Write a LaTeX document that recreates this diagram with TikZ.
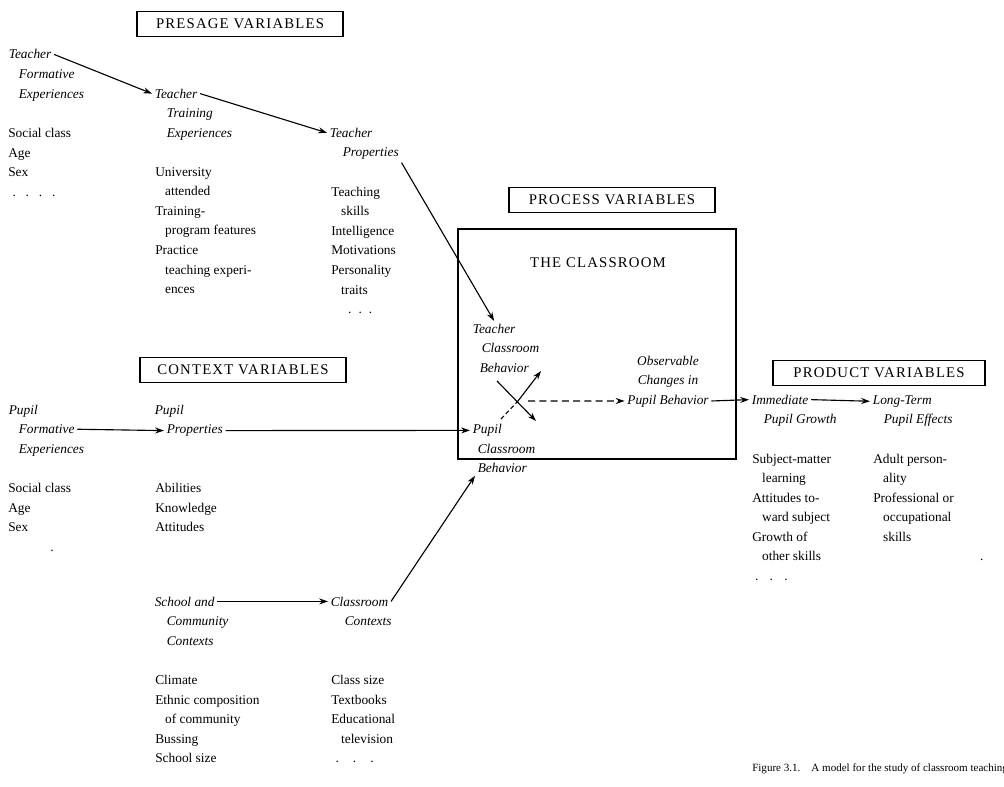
\documentclass[tikz,border=0pt]{standalone}
\usepackage{fontspec}
\setmainfont{Liberation Serif}
\newfontfamily\capsfont[LetterSpace=8]{Liberation Serif}
\usetikzlibrary{arrows.meta}
\newcommand\ind{\hspace*{7pt}}
\tikzset{
  flow/.style={-{Stealth[length=2.2mm,width=1.5mm]},line width=0.8pt},
  dashflow/.style={flow,dash pattern=on 5pt off 3pt},
  varbox/.style={draw,line width=0.9pt,minimum width=5.15cm,minimum height=0.62cm,
    inner sep=2pt,font=\capsfont\fontsize{10.5}{12}\selectfont},
  hd/.style={anchor=base west,inner sep=0pt,outer sep=2pt,
    font=\itshape\fontsize{9.5}{13.9}\selectfont},
  hdc/.style={hd,anchor=base},
  items/.style={anchor=north west,inner sep=0pt,align=left,
    font=\fontsize{9.5}{13.9}\selectfont}
}

\begin{document}
\begin{tikzpicture}[x=0.025cm,y=-0.025cm]
  \useasboundingbox (0,0) rectangle (1004,787);

  % presage
  \node[varbox] (presage) at (240,24) {PRESAGE VARIABLES};
  \node[hd] (tf1) at (6,59) {Teacher};
  \node[hd] (tf2) at (16,78.6) {Formative};
  \node[hd] (tf3) at (16,98.2) {Experiences};
  \node[items] (tfl) at (8,128) {Social class\\Age\\Sex\\\hspace*{3pt}.\hspace{7pt}.\hspace{7pt}.\hspace{7pt}.};
  \node[hd] (tt1) at (152,98.2) {Teacher};
  \node[hd] (tt2) at (164,117.8) {Training};
  \node[hd] (tt3) at (164,137.4) {Experiences};
  \node[items] (ttl) at (155,167.2) {University\\\ind attended\\Training-\\\ind program features\\Practice\\\ind teaching experi-\\\ind ences};
  \node[hd] (tp1) at (327,137.4) {Teacher};
  \node[hd] (tp2) at (340,157) {Properties};
  \node[items] (tpl) at (331,186.8) {Teaching\\\ind skills\\Intelligence\\Motivations\\Personality\\\ind traits\\\hspace*{12pt}.\hspace{5pt}.\hspace{5pt}.};
  \draw[flow] (tf1.east) -- (tt1.west);
  \draw[flow] (tt1.east) -- (tp1.west);

  % context
  \node[varbox] (context) at (243,370) {CONTEXT VARIABLES};
  \node[hd] (pf1) at (6,414) {Pupil};
  \node[hd] (pf2) at (16,433.6) {Formative};
  \node[hd] (pf3) at (16,453.2) {Experiences};
  \node[items] (pfl) at (8,483) {Social class\\Age\\Sex\\\hspace*{30pt}.};
  \node[hd] (pp1) at (152,414) {Pupil};
  \node[hd] (pp2) at (164,433.6) {Properties};
  \node[items] (ppl) at (155,483) {Abilities\\Knowledge\\Attitudes};
  \node[hd] (sc1) at (152,606) {School and};
  \node[hd] (sc2) at (164,625.6) {Community};
  \node[hd] (sc3) at (164,645.2) {Contexts};
  \node[items] (scl) at (155,675) {Climate\\Ethnic composition\\\ind of community\\Bussing\\School size};
  \node[hd] (cc1) at (328,606) {Classroom};
  \node[hd] (cc2) at (342,625.6) {Contexts};
  \node[items] (ccl) at (331,675) {Class size\\Textbooks\\Educational\\\ind television\\\hspace*{3pt}.\hspace{10pt}.\hspace{10pt}.};
  \draw[flow] (pf2.east) -- (pp2.west);
  \draw[flow] (sc1.east) -- (cc1.west);

  % process
  \node[varbox] (process) at (612,200) {PROCESS VARIABLES};
  \node[draw,line width=0.9pt,minimum width=6.95cm,minimum height=5.75cm] (room) at (597,344) {};
  \node[font=\capsfont\fontsize{10.5}{12}\selectfont] (roomtitle) at (598,263) {THE CLASSROOM};
  \node[hd] (tc1) at (470,333) {Teacher};
  \node[hd] (tc2) at (479,352.6) {Classroom};
  \node[hd] (tc3) at (477,372.2) {Behavior};
  \node[hd] (pc1) at (470,433.6) {Pupil};
  \node[hd] (pc2) at (475,453.2) {Classroom};
  \node[hd] (pc3) at (475,472.8) {Behavior};
  \node[hdc] (ob1) at (668,365) {Observable};
  \node[hdc] (ob2) at (668,384.6) {Changes in};
  \node[hdc] (ob3) at (668,404.2) {Pupil Behavior};
  \coordinate (xa) at (497,381);
  \coordinate (xb) at (536,421);
  \coordinate (xc) at (501,419);
  \coordinate (xm) at (518,401);
  \coordinate (xd) at (541,371);
  \coordinate (xo) at (528,401);
  \draw[flow] (xa) -- (xb);
  \draw[line width=0.8pt,dash pattern=on 3pt off 2pt] (xc) -- (xm);
  \draw[flow] (xm) -- (xd);
  \draw[dashflow] (xo) -- (ob3.west);
  \draw[flow] (tp2.south east) -- (tc1.north);
  \draw[flow] (pp2.east) -- (pc1.west);
  \draw[flow] (cc1.east) -- (pc3.south west);

  % product
  \node[varbox,minimum width=5.3cm] (product) at (879,373) {PRODUCT VARIABLES};
  \node[hd] (ip1) at (749,404.2) {Immediate};
  \node[hd] (ip2) at (761,423.8) {Pupil Growth};
  \node[hd] (lt1) at (870,404.2) {Long-Term};
  \node[hd] (lt2) at (881,423.8) {Pupil Effects};
  \node[items] (ipl) at (752,453.6) {Subject-matter\\\ind learning\\Attitudes to-\\\ind ward subject\\Growth of\\\ind other skills\\\hspace*{2pt}.\hspace{8pt}.\hspace{8pt}.};
  \node[items] (ltl) at (873,453.6) {Adult person-\\\ind ality\\Professional or\\\ind occupational\\\ind skills\\\hspace*{76pt}.};
  \draw[flow] (ob3.east) -- (ip1.west);
  \draw[flow] (ip1.east) -- (lt1.west);

  \node[anchor=base west,inner sep=0pt,font=\fontsize{7.85}{9}\selectfont] (caption) at (752,771) {Figure 3.1.\quad A model for the study of classroom teaching};
\end{tikzpicture}
\end{document}
